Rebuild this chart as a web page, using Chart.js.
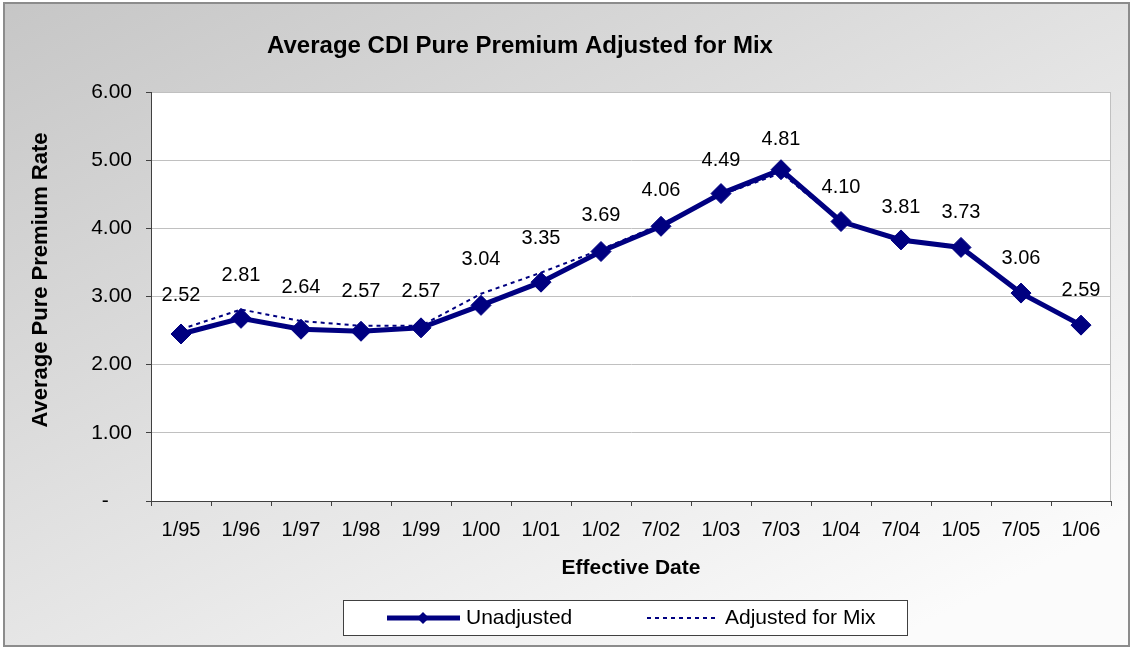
<!DOCTYPE html>
<html>
<head>
<meta charset="utf-8">
<script src="https://cdn.jsdelivr.net/npm/chart.js@4.4.1/dist/chart.umd.min.js"></script>
<style>
  body { margin: 0; background: #fff; }
  #wrap { width: 1132px; height: 649px; }
</style>
</head>
<body>
<div id="wrap"><canvas id="myChart" width="1132" height="649"></canvas></div>
<script>
const chartTitle = "Average CDI Pure Premium Adjusted for Mix";
const yTitle = "Average Pure Premium Rate";
const dates = ["1/95","1/96","1/97","1/98","1/99","1/00","1/01","1/02","7/02","1/03","7/03","1/04","7/04","1/05","7/05","1/06"];
const unadjusted = [2.45, 2.68, 2.52, 2.49, 2.54, 2.87, 3.21, 3.66, 4.03, 4.51, 4.86, 4.10, 3.83, 3.72, 3.05, 2.58];
const adjustedMix = [2.52, 2.81, 2.64, 2.57, 2.57, 3.04, 3.35, 3.69, 4.06, 4.49, 4.81, 4.10, 3.81, 3.73, 3.06, 2.59];
const yTicks = [0, 1, 2, 3, 4, 5, 6];

const navy = "#000080";
const font = "Arial, 'Liberation Sans', sans-serif";

// background, frame, plot box, titles, value labels and legend
const frame = {
  id: "frame",
  beforeDraw(chart) {
    const c = chart.ctx;
    const a = chart.chartArea;
    c.save();
    c.fillStyle = "#fff";
    c.fillRect(0, 0, chart.width, chart.height);
    const g = c.createLinearGradient(0, 0, 435, 869);
    g.addColorStop(0, "#c6c6c6");
    g.addColorStop(1, "#fbfbfb");
    c.fillStyle = g;
    c.fillRect(4, 3, 1125, 643);
    c.strokeStyle = "#8c8c8c";
    c.lineWidth = 2;
    c.strokeRect(4, 3, 1125, 643);
    c.fillStyle = "#fff";
    c.fillRect(a.left, a.top, a.right - a.left, a.bottom - a.top);
    c.strokeStyle = "#c0c0c0";
    c.lineWidth = 1;
    c.beginPath();
    c.moveTo(a.left, a.top + 0.5);
    c.lineTo(a.right - 0.5, a.top + 0.5);
    c.lineTo(a.right - 0.5, a.bottom);
    c.stroke();
    c.fillStyle = "#000";
    c.font = "bold 24px " + font;
    c.textAlign = "center";
    c.textBaseline = "middle";
    c.fillText(chartTitle, 520, 46);
    c.translate(41, 280);
    c.rotate(-Math.PI / 2);
    c.font = "bold 22px " + font;
    c.fillText(yTitle, 0, 0);
    c.restore();
  },
  afterDraw(chart) {
    const c = chart.ctx;
    c.save();
    // value labels of the adjusted series
    const meta = chart.getDatasetMeta(1);
    c.fillStyle = "#000";
    c.font = "20px " + font;
    c.textAlign = "center";
    c.textBaseline = "middle";
    meta.data.forEach((p, i) => {
      c.fillText(adjustedMix[i].toFixed(2), p.x, p.y - 34);
    });

    // legend
    const ds = chart.data.datasets;
    c.fillStyle = "#fff";
    c.fillRect(343.5, 600.5, 564, 35);
    c.strokeStyle = "#404040";
    c.lineWidth = 1;
    c.strokeRect(343.5, 600.5, 564, 35);
    const ly = 618;
    c.strokeStyle = ds[0].borderColor;
    c.lineWidth = ds[0].borderWidth;
    c.beginPath();
    c.moveTo(387, ly);
    c.lineTo(460, ly);
    c.stroke();
    c.fillStyle = ds[0].borderColor;
    c.beginPath();
    c.moveTo(423, ly - 6);
    c.lineTo(429, ly);
    c.lineTo(423, ly + 6);
    c.lineTo(417, ly);
    c.closePath();
    c.fill();
    c.strokeStyle = ds[1].borderColor;
    c.lineWidth = ds[1].borderWidth;
    c.setLineDash(ds[1].borderDash);
    c.beginPath();
    c.moveTo(647, ly);
    c.lineTo(718, ly);
    c.stroke();
    c.setLineDash([]);
    c.fillStyle = "#000";
    c.textAlign = "left";
    c.font = "21px " + font;
    c.fillText(ds[0].label, 466, ly);
    c.fillText(ds[1].label, 725, ly);
    c.restore();
  }
};

const ctx = document.getElementById("myChart");
const chart = new Chart(ctx, {
  type: "line",
  data: {
    labels: dates,
    datasets: [{
      label: "Unadjusted",
      data: unadjusted,
      borderColor: navy,
      backgroundColor: navy,
      borderWidth: 5,
      pointStyle: "rectRot",
      pointRadius: 10,
      pointBorderWidth: 1,
      pointBackgroundColor: navy,
      pointBorderColor: navy,
      tension: 0,
      order: 2
    }, {
      label: "Adjusted for Mix",
      data: adjustedMix,
      borderColor: navy,
      backgroundColor: navy,
      borderWidth: 2,
      borderDash: [4, 4],
      pointRadius: 0,
      tension: 0,
      order: 1
    }]
  },
  options: {
    responsive: false,
    animation: false,
    devicePixelRatio: 1,
    layout: { padding: { top: 92, right: 21, bottom: 68, left: 0 } },
    plugins: {
      legend: { display: false },
      title: { display: false },
      tooltip: { enabled: false }
    },
    scales: {
      x: {
        offset: true,
        grid: {
          offset: true,
          drawOnChartArea: false,
          drawTicks: true,
          tickLength: 5,
          tickColor: "#404040"
        },
        border: { color: "#404040", width: 1 },
        ticks: {
          autoSkip: false,
          maxRotation: 0,
          padding: 12,
          color: "#000",
          font: { family: font, size: 20 }
        },
        title: {
          display: true,
          text: "Effective Date",
          color: "#000",
          padding: 0,
          font: { family: font, size: 21, weight: "bold" }
        },
        afterFit(scale) { scale.height = 80; }
      },
      y: {
        min: 0,
        max: 6,
        afterBuildTicks(scale) {
          scale.ticks = yTicks.map(v => ({ value: v }));
        },
        grid: {
          color: "#c0c0c0",
          drawTicks: true,
          tickLength: 5,
          tickColor: "#404040"
        },
        border: { color: "#404040", width: 1 },
        ticks: {
          padding: 14,
          color: "#000",
          font: { family: font, size: 21 },
          callback: v => v === 0 ? "-    " : v.toFixed(2)
        },
        afterFit(scale) { scale.width = 151; }
      }
    }
  },
  plugins: [frame]
});
</script>
</body>
</html>
